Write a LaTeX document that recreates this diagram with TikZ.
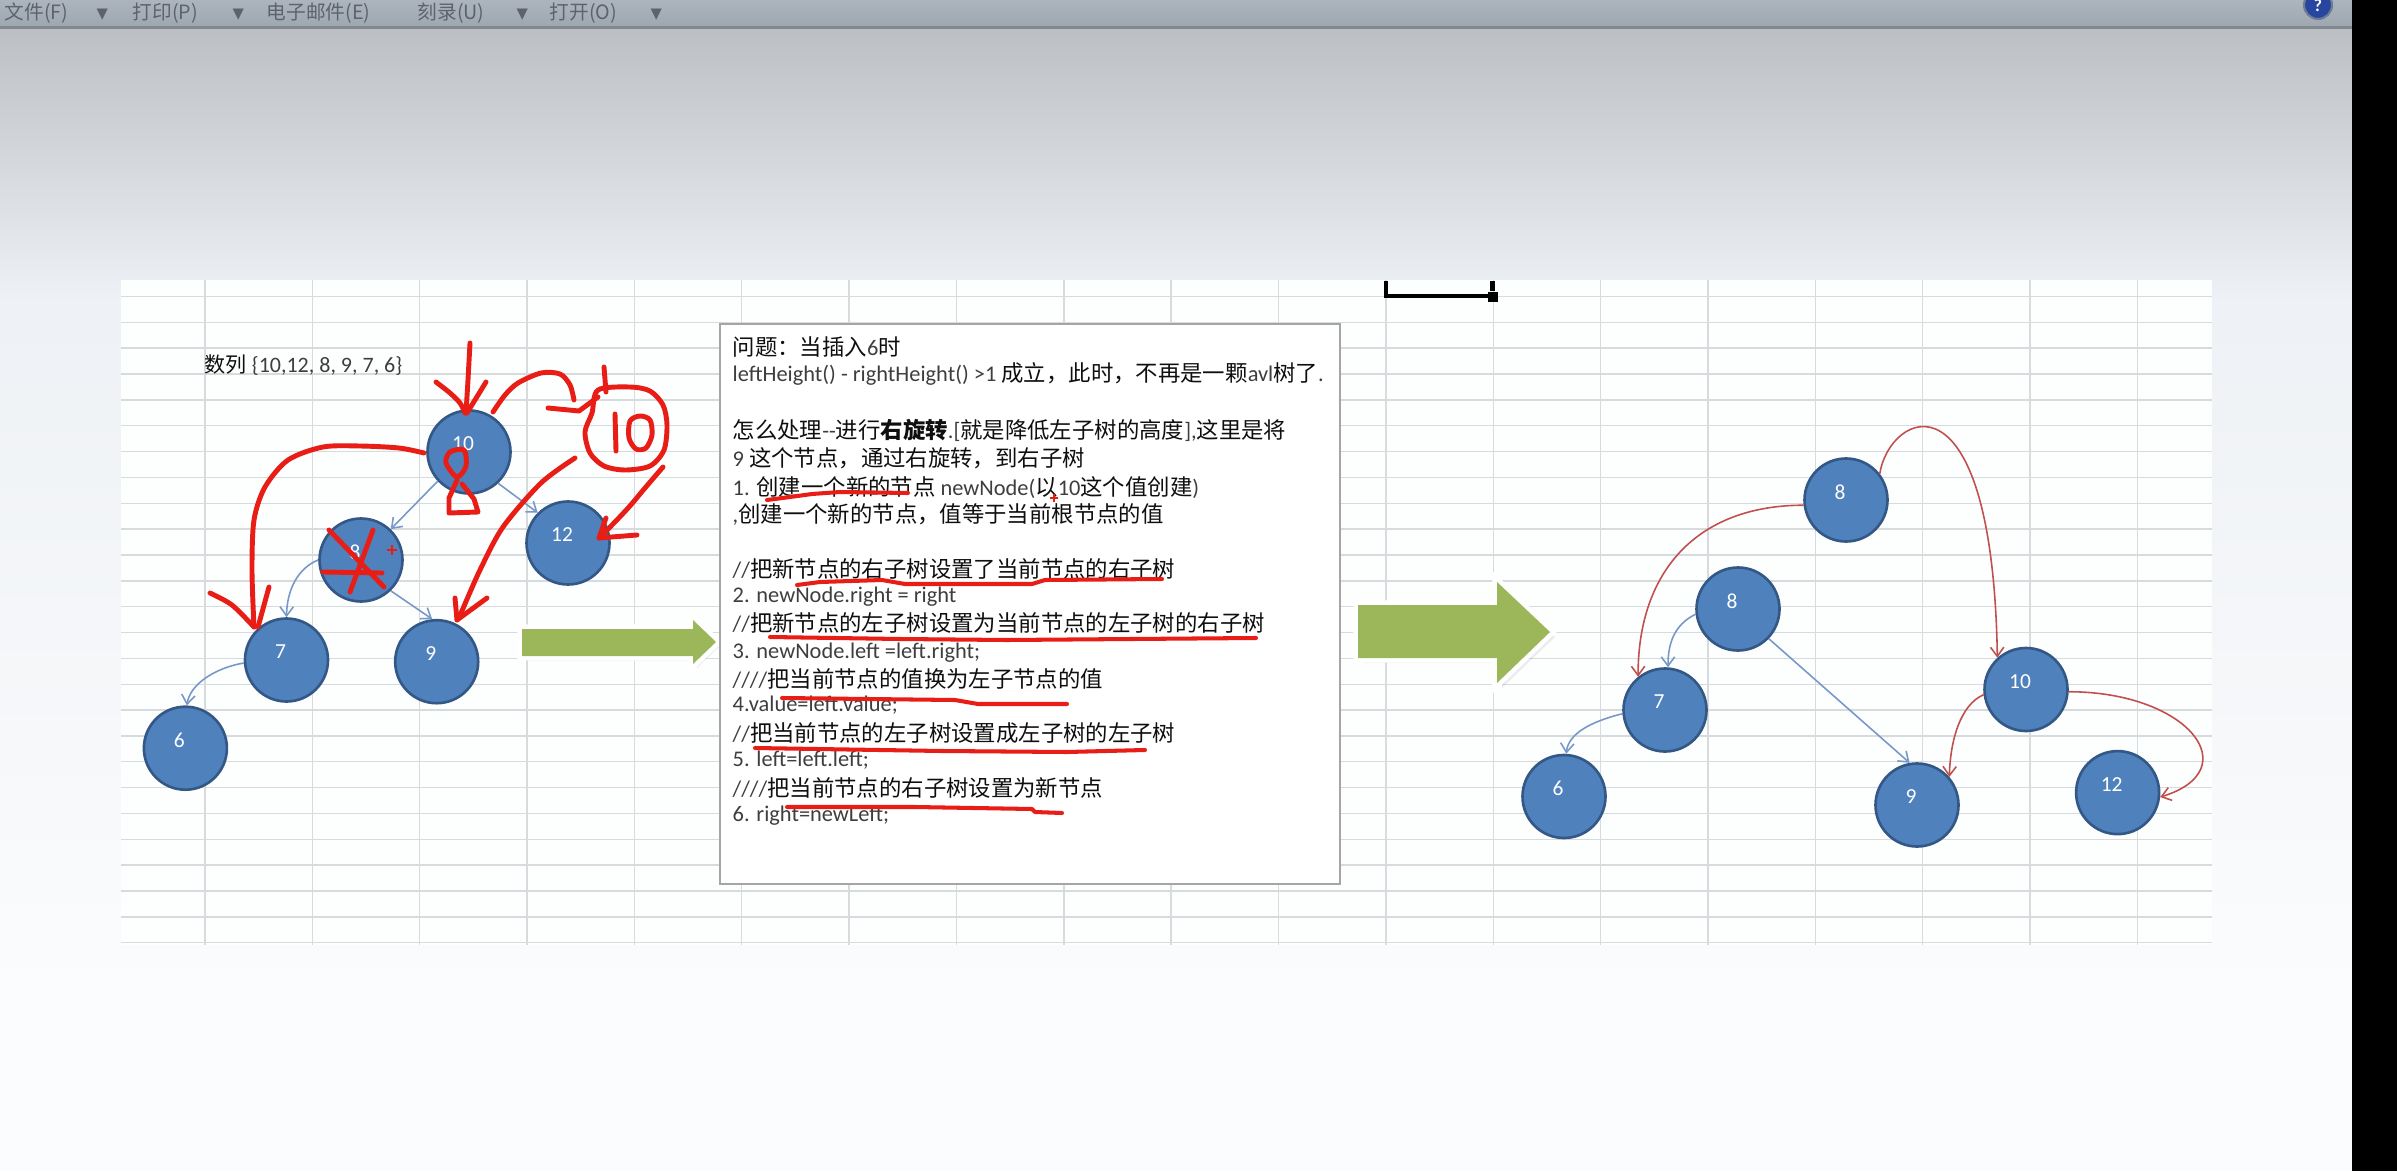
\documentclass[tikz,border=0pt]{standalone}
\usepackage{fontspec}
\setmainfont{Carlito}
\newfontfamily\zhfont{Noto Sans CJK SC}
\newfontfamily\dvsfont{DejaVu Sans}
\usetikzlibrary{arrows.meta,calc}
\definecolor{nodefill}{RGB}{79,129,189}
\definecolor{nodeline}{RGB}{52,88,134}
\definecolor{edgeblue}{RGB}{120,152,200}
\definecolor{edgered}{RGB}{192,80,77}
\definecolor{inkred}{RGB}{232,30,22}
\definecolor{olive}{RGB}{155,183,89}
\definecolor{gridc}{RGB}{216,219,222}
\definecolor{gridbg}{RGB}{253,254,254}
\definecolor{latinink}{RGB}{62,62,62}
\definecolor{zhink}{RGB}{15,15,15}
\definecolor{bar1}{RGB}{172,180,189}
\definecolor{bar2}{RGB}{158,166,176}
\definecolor{barline}{RGB}{128,136,146}
\definecolor{bg1}{RGB}{188,191,195}
\definecolor{bg2}{RGB}{238,241,245}
\definecolor{bg3}{RGB}{251,252,253}
\definecolor{toolgray}{RGB}{92,99,109}
\definecolor{helpblue}{RGB}{40,70,160}
\definecolor{helpring}{RGB}{110,125,150}
\definecolor{boxline}{RGB}{165,165,165}
\newcommand\zh[1]{{\zhfont\fontsize{6.37pt}{7.6pt}\selectfont\color{zhink}#1}}
\newcommand\boxtxt{\fontsize{6.37pt}{7.6pt}\selectfont}
\begin{document}
\begin{tikzpicture}[x=0.1mm,y=-0.1mm,
  treenode/.style={circle,fill=nodefill,draw=nodeline,line width=0.75pt,minimum size=8.3mm,inner sep=0pt},
  lbl/.style={text=white,font=\fontsize{6.1pt}{7pt}\selectfont,xshift=-0.6mm,yshift=0.8mm,inner sep=0pt},
  arrowtip/.style={-{Straight Barb[length=2.6pt,width=3.8pt]}},
  bedge/.style={draw=edgeblue,line width=0.45pt,arrowtip},
  redge/.style={draw=edgered,line width=0.45pt,arrowtip},
  ink/.style={draw=inkred,line width=1.4pt,line cap=round,line join=round},
  uline/.style={draw=inkred,line width=1.15pt,line cap=round,line join=round},
  txt/.style={anchor=base west,inner sep=0pt,text=latinink,font=\boxtxt},
  gridline/.style={draw=gridc,line width=0.4pt},
  tool/.style={anchor=base west,inner sep=0pt,text=toolgray,font=\zhfont\fontsize{5.6pt}{6.5pt}\selectfont},
  toolsym/.style={anchor=base west,inner sep=0pt,text=toolgray,font=\dvsfont\fontsize{4.2pt}{5pt}\selectfont},
  glow/.style={draw=white,line width=2.6pt,line join=miter},
]
\useasboundingbox (0,0) rectangle (2397,1171);
\clip (0,0) rectangle (2397,1171);
% background
\shade[top color=bg1,bottom color=bg2] (0,29) rectangle (2352,300);
\shade[top color=bg2,bottom color=bg3] (0,299) rectangle (2352,1000);
\fill[bg3] (0,999) rectangle (2352,1171);
% toolbar
\shade[top color=bar1,bottom color=bar2] (0,0) rectangle (2352,27);
\fill[barline] (0,26.5) rectangle (2352,29.5);
\node[tool] (tb1) at (4,20) {文件(F)};
\node[toolsym] (tb2) at (96,19) {▼};
\node[tool] (tb3) at (132,20) {打印(P)};
\node[toolsym] (tb4) at (232,19) {▼};
\node[tool] (tb5) at (266,20) {电子邮件(E)};
\node[tool] (tb6) at (417,20) {刻录(U)};
\node[toolsym] (tb7) at (516,19) {▼};
\node[tool] (tb8) at (549,20) {打开(O)};
\node[toolsym] (tb9) at (650,19) {▼};
\node[circle,fill=helpblue,draw=helpring,line width=0.6pt,minimum size=2.8mm,inner sep=0pt] (help) at (2318,5) {};
\node[inner sep=0pt,text=white,font=\bfseries\fontsize{5pt}{5pt}\selectfont] (helpq) at (2318,5) {?};
\fill[black] (2352,0) rectangle (2397,1171);
% spreadsheet grid
\begin{scope}
\clip (121,280) rectangle (2212,945);
\fill[gridbg] (121,280) rectangle (2212,945);
\foreach \k in {0,...,18} \draw[gridline] ({205+107.35*\k},280) -- ++(0,665);
\foreach \k in {0,...,25} \draw[gridline] (121,{296.45+25.85*\k}) -- (2212,{296.45+25.85*\k});
\end{scope}
% selection bracket
\draw[black,line width=1.4pt] (1386,281) -- (1386,296) -- (1489,296);
\draw[black,line width=1.4pt] (1492.5,281) -- (1492.5,291);
\fill[black] (1488,291.5) rectangle (1498,301.5);
% sequence text
\node[txt,text=latinink,font=\fontsize{6.26pt}{7pt}\selectfont] (seq) at (204,372) {{\zhfont\fontsize{6.0pt}{7pt}\selectfont\color{zhink}数列} \{10,12, 8, 9, 7, 6\}};
% left tree
\node[treenode,label={[lbl]center:10}] (L10) at (469,452) {};
\node[treenode,label={[lbl]center:8}] (L8) at (361,560) {};
\node[treenode,label={[lbl]center:12}] (L12) at (568,543) {};
\node[treenode,label={[lbl]center:7}] (L7) at (286.5,660) {};
\node[treenode,label={[lbl]center:9}] (L9) at (436.7,661.7) {};
\node[treenode,label={[lbl]center:6}] (L6) at (185.4,748.2) {};
\draw[bedge] (L10.223) -- (L8.46);
\draw[bedge] (L10.313) -- (L12.135);
\draw[bedge] (L8.180) .. controls ($(L8.180)+(-20,8)$) and ($(L7.90)+(0.5,-28)$) .. (L7.90);
\draw[bedge] (L8.314) -- (L9.96);
\draw[bedge] (L7.184) .. controls ($(L7.184)+(-29,5)$) and ($(L6.88)+(3,-21)$) .. (L6.88);
% red handwriting on the left tree
\draw[ink] (470,343) -- (468,380) -- (466,413);
\draw[ink] plot[smooth] coordinates {(436,382) (450,393) (460,403) (465,413)};
\draw[ink] (486,382) -- (467,413);
\draw[ink] plot[smooth] coordinates {(493,412) (505,395) (518,383) (541,373) (560,374) (570,385) (574,400)};
\draw[ink] (548,408) -- (579,411) -- (598,397);
\draw[ink] (604,367) -- (606,392);
\draw[ink] plot[smooth cycle] coordinates {(598,390) (630,387) (650,391) (663,405) (667,425) (664,450) (650,466) (625,470) (604,466) (590,453) (585,432) (592,413)};
\draw[ink] (615,414) -- (616,451);
\draw[ink] plot[smooth cycle] coordinates {(630,421) (629,438) (636,449) (646,448) (652,435) (650,420) (640,416)};
\draw[ink] plot[smooth] coordinates {(663,467) (645,488) (629,507) (612,525) (599,538)};
\draw[ink] (606,518) -- (599,538) -- (637,535);
\draw[ink] plot[smooth] coordinates {(424,453) (399,448) (360,446) (323,447) (288,460) (265,487) (254,520) (252,570) (254,627)};
\draw[ink] plot[smooth] coordinates {(210,593) (232,605) (254,627)};
\draw[ink] (269,587) -- (258,627);
\draw[ink] plot[smooth] coordinates {(575,458) (541,483) (503,527) (480,570) (461,613) (457,620)};
\draw[ink] (455,598) -- (457,620) -- (487,598);
\draw[ink] plot[smooth cycle] coordinates {(450,452) (464,450) (466,466) (457,477) (446,463)};
\draw[ink] (457,480) -- (449,498) -- (449,513) -- (478,512) -- (474,499) -- (462,484);
\draw[ink] (329,530) -- (384,587);
\draw[ink] (373,530) -- (350,592);
\draw[ink] (323,572) -- (382,573);
\draw[inkred,line width=0.6pt] (387,550) -- (397,550) (392,545) -- (392,555);
% green arrows
\fill[black,opacity=0.07] (526,634) -- (697,634) -- (697,626) -- (719,647) -- (697,668) -- (697,661) -- (526,661) -- cycle;
\draw[glow] (522,629) -- (693,629) -- (693,620) -- (716,642) -- (693,664) -- (693,656) -- (522,656) -- cycle;
\fill[olive] (522,629) -- (693,629) -- (693,620) -- (716,642) -- (693,664) -- (693,656) -- (522,656) -- cycle;
\fill[black,opacity=0.07] (1363,610) -- (1502,610) -- (1502,587) -- (1555,637) -- (1502,688) -- (1502,663) -- (1363,663) -- cycle;
\draw[glow] (1358,605) -- (1497,605) -- (1497,582) -- (1550,632) -- (1497,683) -- (1497,658) -- (1358,658) -- cycle;
\fill[olive] (1358,605) -- (1497,605) -- (1497,582) -- (1550,632) -- (1497,683) -- (1497,658) -- (1358,658) -- cycle;
% text box
\node[draw=boxline,fill=white,line width=0.5pt,minimum width=62mm,minimum height=56mm,anchor=north west,inner sep=0pt] (tbox) at (719,323) {};
\node[txt] (t1) at (732,355) {\zh{问题：当插入}6\zh{时}};
\node[txt] (t2) at (732,381.7) {leftHeight() - rightHeight() >1 \zh{成立，此时，不再是一颗}avl\zh{树了}.};
\node[txt] (t4) at (732,438.3) {\zh{怎么处理}-{}-\zh{进行\textbf{右旋转}}.[\zh{就是降低左子树的高度}],\zh{这里是将}};
\node[txt] (t5) at (732,466.7) {9 \zh{这个节点，通过右旋转，到右子树}};
\node[txt] (t6) at (732,495) {1. \zh{创建一个新的节点} newNode(\zh{以}10\zh{这个值创建})};
\node[txt] (t7) at (732,522.7) {,\zh{创建一个新的节点，值等于当前根节点的值}};
\node[txt] (t9) at (732,577) {//\zh{把新节点的右子树设置了当前节点的右子树}};
\node[txt] (t10) at (732,602.7) {2. newNode.right = right};
\node[txt] (t11) at (732,631.7) {//\zh{把新节点的左子树设置为当前节点的左子树的右子树}};
\node[txt] (t12) at (732,658.3) {3. newNode.left =left.right;};
\node[txt] (t13) at (732,687.3) {////\zh{把当前节点的值换为左子节点的值}};
\node[txt] (t14) at (732,711.7) {4.value=left.value;};
\node[txt] (t15) at (732,741.7) {//\zh{把当前节点的左子树设置成左子树的左子树}};
\node[txt] (t16) at (732,766.7) {5. left=left.left;};
\node[txt] (t17) at (732,796.7) {////\zh{把当前节点的右子树设置为新节点}};
\node[txt] (t18) at (732,821.7) {6. right=newLeft;};
% red underlines
\draw[uline] (767,500) -- (790,497) -- (812,494) -- (840,492) -- (908,493);
\draw[uline] (797,585) -- (820,582) -- (882,580) -- (905,584) -- (1032,584) -- (1045,580) -- (1162,579);
\draw[uline] (770,637) -- (900,639) -- (1007,640) -- (1256,638);
\draw[uline] (782,698) -- (955,700) -- (978,704) -- (1067,704);
\draw[uline] (755,748) -- (942,751) -- (1067,752) -- (1145,750);
\draw[uline] (787,807) -- (915,807) -- (1032,809) -- (1035,812) -- (1062,813);
\draw[inkred,line width=0.5pt] (1050,498) -- (1058,498) (1054,494) -- (1054,502);
% right tree
\node[treenode,label={[lbl]center:8}] (R8t) at (1846,500) {};
\node[treenode,label={[lbl]center:8}] (R8m) at (1738,609) {};
\node[treenode,label={[lbl]center:7}] (R7) at (1665,710) {};
\node[treenode,label={[lbl]center:6}] (R6) at (1564,796.5) {};
\node[treenode,label={[lbl]center:9}] (R9) at (1917,805) {};
\node[treenode,label={[lbl]center:10}] (R10) at (2026,689.5) {};
\node[treenode,label={[lbl]center:12}] (R12) at (2117.6,792.6) {};
\draw[redge] (R8t.187) .. controls ($(R8t.187)+(-105,0)$) and ($(R7.129)+(0,-107)$) .. (R7.129);
\draw[redge] (R8t.38) .. controls ($(R8t.38)+(10,-62)$) and ($(R10.132)+(-5,-295)$) .. (R10.132);
\draw[redge] (R10.187) .. controls ($(R10.187)+(-23,10)$) and ($(R9.41)+(1,-37)$) .. (R9.41);
\draw[redge] (R10.357) .. controls ($(R10.357)+(120,0)$) and ($(R12.354)+(88,-27)$) .. (R12.354);
\draw[bedge] (R8m.187) .. controls ($(R8m.187)+(-22,11)$) and ($(R7.86)+(0,-23)$) .. (R7.86);
\draw[bedge] (R8m.316) -- (R9.100);
\draw[bedge] (R7.185) .. controls ($(R7.185)+(-32,8)$) and ($(R6.87)+(2,-20)$) .. (R6.87);
\end{tikzpicture}
\end{document}
